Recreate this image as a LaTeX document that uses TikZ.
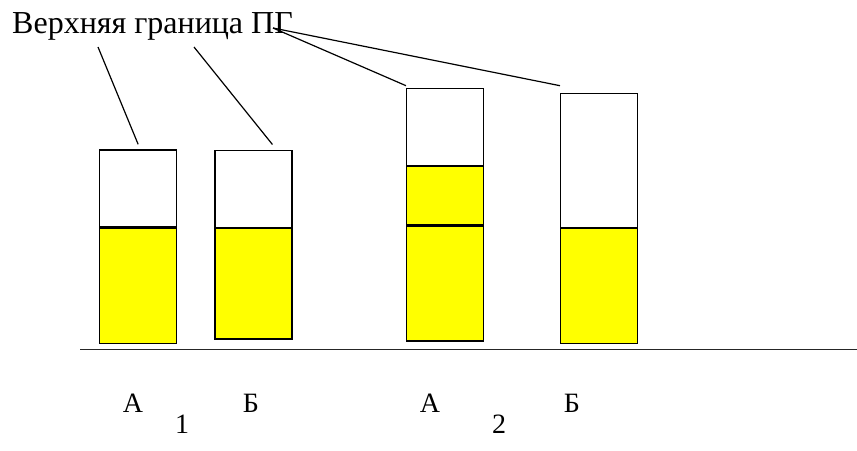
\documentclass[tikz,border=0pt]{standalone}
\usepackage{fontspec}
\setmainfont{Liberation Serif}
\usetikzlibrary{positioning}
\definecolor{fluid}{RGB}{255, 255, 0}

\begin{document}
\begin{tikzpicture}[
    x=1pt, y=-1pt,
    topbox/.style={
        rectangle, draw, line width=1.3pt, fill=white, minimum width=77pt, inner sep=0pt
    },
    fluidbox/.style={
        rectangle, draw, line width=1.3pt, fill=fluid, minimum width=77pt, inner sep=0pt
    },
    pointer/.style={line width=1.2pt},
    barlabel/.style={font=\fontsize{28}{32}\selectfont, anchor=base}
]
\useasboundingbox (0,0) rectangle (857,450);

% Title and its pointer ends
\node[font=\fontsize{32}{36}\selectfont, anchor=base west, inner sep=0pt] (title) at (12,33) {Верхняя граница ПГ};
\coordinate (p1) at (98,47);
\coordinate (p2) at (194,47);
\coordinate (p3) at (273,28);

% Group 1
\node[topbox, minimum height=77pt, anchor=north west] (a1) at (99,149.3) {};
\node[fluidbox, minimum height=115pt, anchor=north] (a1f) at (a1.south) {};
\node[topbox, minimum height=77pt, anchor=north west] (b1) at (214.3,149.5) {};
\node[fluidbox, minimum height=110.6pt, anchor=north] (b1f) at (b1.south) {};

% Group 2
\node[topbox, minimum height=77pt, anchor=north west] (a2) at (406,87.7) {};
\node[fluidbox, minimum height=58pt, anchor=north] (a2m) at (a2.south) {};
\node[fluidbox, minimum height=115pt, anchor=north] (a2f) at (a2m.south) {};
\node[topbox, minimum height=134pt, anchor=north west] (b2) at (560,92.7) {};
\node[fluidbox, minimum height=115pt, anchor=north] (b2f) at (b2.south) {};

% Ground line
\coordinate (g1) at (80,349.3);
\coordinate (g2) at (857,349.3);
\draw[line width=1.3pt, black!85] (g1) -- (g2);

% Pointers
\draw[pointer] (p1) -- ([yshift=5pt]a1.north);
\draw[pointer] (p2) -- ([xshift=19pt, yshift=5pt]b1.north);
\draw[pointer] (p3) -- ([yshift=2pt]a2.north west);
\draw[pointer] (p3) -- ([yshift=7pt]b2.north west);

% Labels
\node[barlabel] (la1) at (133,412) {А};
\node[barlabel] (lb1) at (251,412) {Б};
\node[barlabel] (la2) at (430,412) {А};
\node[barlabel] (lb2) at (572,412) {Б};
\node[barlabel] (n1) at (182,433) {1};
\node[barlabel] (n2) at (499,433) {2};

\end{tikzpicture}
\end{document}
